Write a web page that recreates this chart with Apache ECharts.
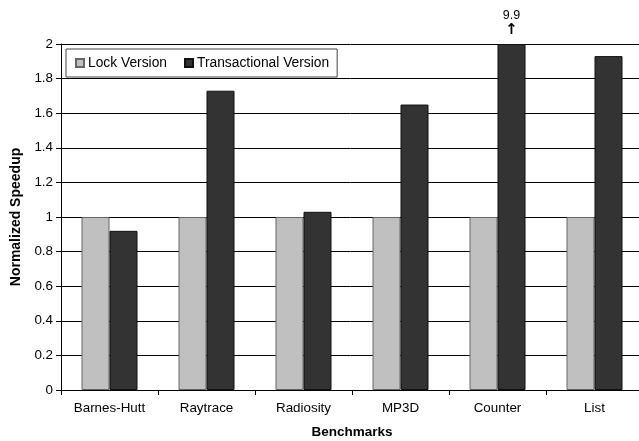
<!DOCTYPE html>
<html>
<head>
<meta charset="utf-8">
<script src="https://cdn.jsdelivr.net/npm/echarts@6/dist/echarts.min.js"></script>
<style>
html,body{margin:0;padding:0;background:#fff;}
#chart{width:639px;height:441px;}
</style>
</head>
<body>
<div id="chart"></div>
<script>
const categories = ['Barnes-Hutt', 'Raytrace', 'Radiosity', 'MP3D', 'Counter', 'List'];
const lockValues = [1, 1, 1, 1, 1, 1];
const transValues = [0.92, 1.73, 1.03, 1.65, 9.9, 1.93];
const yTicks = [0, 0.2, 0.4, 0.6, 0.8, 1, 1.2, 1.4, 1.6, 1.8, 2];
const yMax = 2;

const FONT = 'Liberation Sans, Arial, sans-serif';
const chart = echarts.init(document.getElementById('chart'));

const transData = transValues.map(function (v) {
  if (v > yMax) {
    return {
      value: yMax,
      label: {
        show: true,
        position: 'top',
        distance: 6,
        formatter: '{v|' + v + '}\n{a|↑}',
        rich: {
          v: { fontFamily: FONT, fontSize: 12.5, color: '#000', lineHeight: 15 },
          a: { fontFamily: 'DejaVu Sans', fontSize: 15, fontWeight: 'bold', color: '#000', lineHeight: 15 }
        }
      }
    };
  }
  return v;
});

chart.setOption({
  animation: false,
  backgroundColor: '#fff',
  textStyle: { fontFamily: FONT },
  grid: { left: 61, right: -4, top: 44, bottom: 51, containLabel: false, outerBoundsMode: 'none' },
  legend: {
    left: 66,
    top: 49,
    orient: 'horizontal',
    icon: 'rect',
    itemWidth: 8,
    itemHeight: 8,
    itemGap: 17,
    padding: [7, 8, 7, 9],
    backgroundColor: '#fff',
    borderColor: '#444',
    borderWidth: 1,
    textStyle: { fontFamily: FONT, fontSize: 13.8, color: '#000', padding: [0, 0, 0, -1] },
    data: ['Lock Version', 'Transactional Version']
  },
  xAxis: {
    type: 'category',
    data: categories,
    name: 'Benchmarks',
    nameLocation: 'middle',
    nameGap: 35,
    nameTextStyle: { fontFamily: FONT, fontSize: 13.5, fontWeight: 'bold', color: '#000' },
    axisLine: { lineStyle: { color: '#000', width: 1 } },
    axisTick: { show: true, length: 5, lineStyle: { color: '#000' } },
    axisLabel: { fontFamily: FONT, fontSize: 13.4, color: '#000', margin: 12 },
    splitLine: { show: false }
  },
  yAxis: {
    type: 'value',
    min: 0,
    max: yMax,
    interval: 0.2,
    name: 'Normalized Speedup',
    nameLocation: 'middle',
    nameGap: 38,
    nameTextStyle: { fontFamily: FONT, fontSize: 14, fontWeight: 'bold', color: '#000' },
    axisLine: { show: true, lineStyle: { color: '#000', width: 1 } },
    axisTick: { show: true, length: 5, lineStyle: { color: '#000' } },
    axisLabel: {
      fontFamily: FONT, fontSize: 13.4, color: '#000', margin: 8,
      formatter: function (v) {
        const t = yTicks.find(function (x) { return Math.abs(x - v) < 1e-9; });
        return t === undefined ? '' : String(t);
      }
    },
    splitLine: { show: true, lineStyle: { color: '#000', width: 1 } }
  },
  series: [
    {
      name: 'Lock Version',
      type: 'bar',
      data: lockValues,
      barWidth: 28,
      barGap: '0%',
      itemStyle: { color: '#c0c0c0', borderColor: '#666', borderWidth: 1 }
    },
    {
      name: 'Transactional Version',
      type: 'bar',
      data: transData,
      barWidth: 28,
      barGap: '0%',
      itemStyle: { color: '#333333', borderColor: '#111', borderWidth: 1 }
    }
  ]
});
</script>
</body>
</html>
